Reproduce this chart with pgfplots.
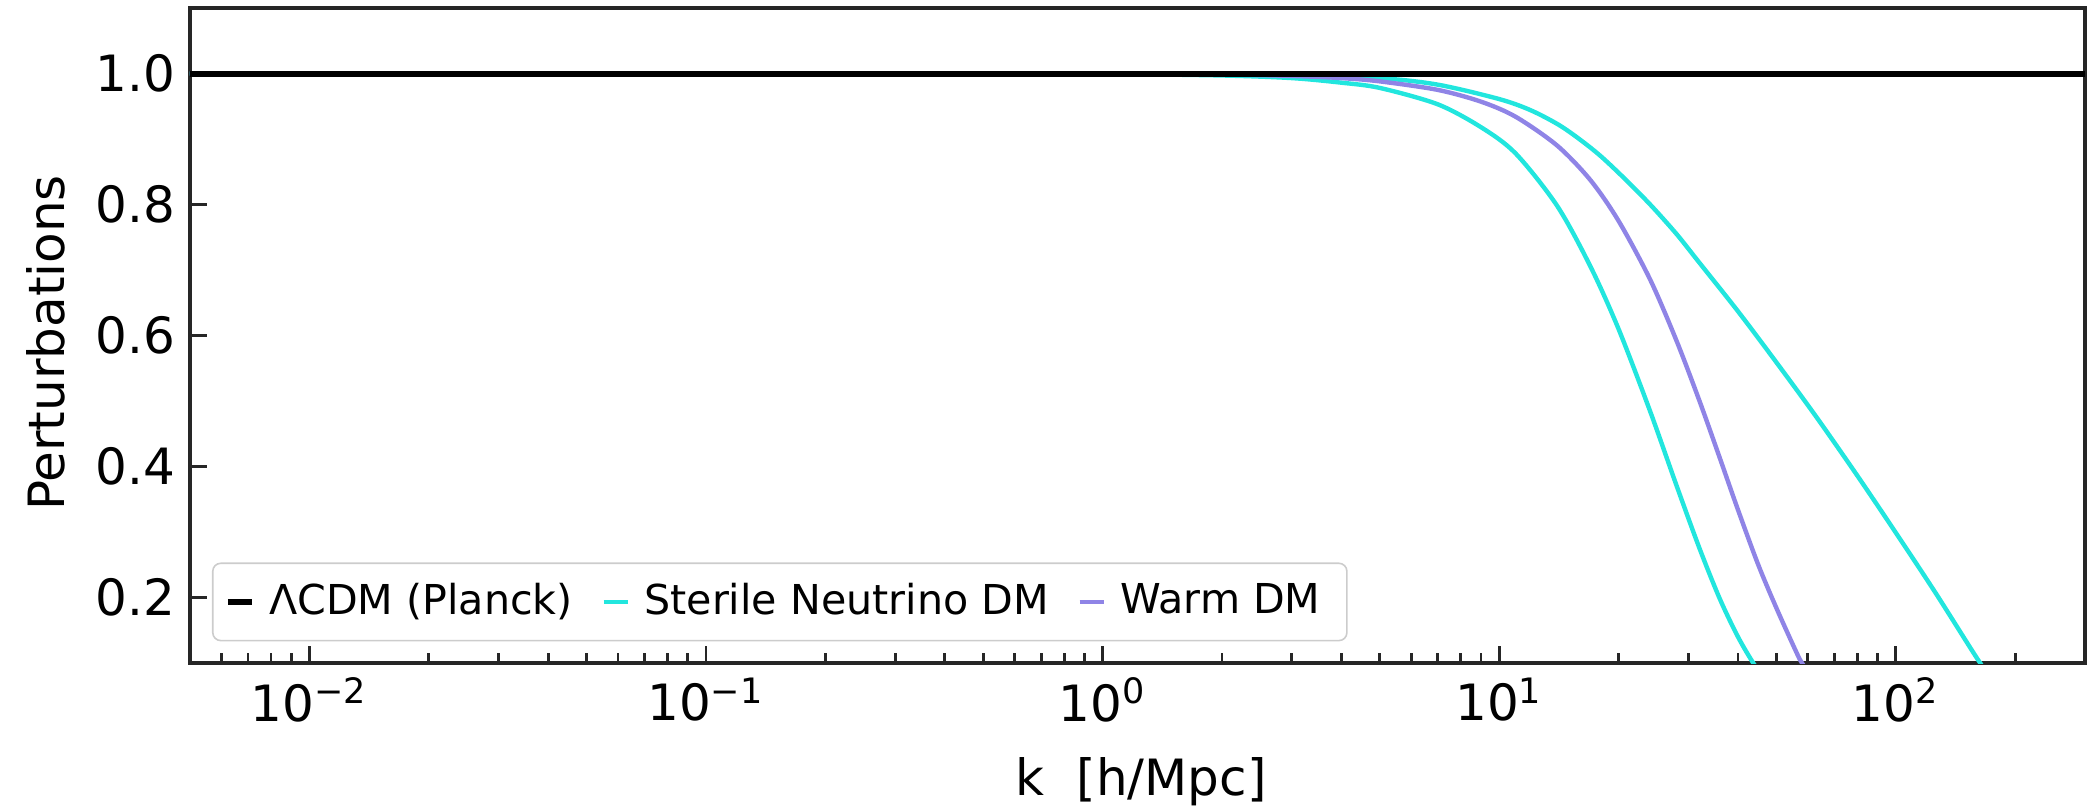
\documentclass[border=0pt]{standalone}
\usepackage{fontspec}
\setmainfont{DejaVu Sans}
\usepackage{pgfplots}
\pgfplotsset{compat=1.18}
\definecolor{cyanline}{HTML}{22E6DE}
\definecolor{purpline}{HTML}{8F84E6}
\begin{document}
\begin{tikzpicture}
\begin{axis}[
  xmode=log,
  scale only axis,
  width=473.75pt, height=163.75pt,
  xmin=0.005, xmax=300,
  ymin=0.1, ymax=1.1,
  axis line style={black!85, line width=0.8pt},
  tick style={black!85, line width=0.7pt},
  major tick length=4.2pt,
  minor tick length=2.6pt,
  xtick pos=left, ytick pos=left,
  tick align=inside,
  xtick={0.01,0.1,1,10,100},
  xticklabels={10\textsuperscript{−2},10\textsuperscript{−1},10\textsuperscript{0},10\textsuperscript{1},10\textsuperscript{2}},
  minor xtick={0.006,0.007,0.008,0.009,0.02,0.03,0.04,0.05,0.06,0.07,0.08,0.09,0.2,0.3,0.4,0.5,0.6,0.7,0.8,0.9,2,3,4,5,6,7,8,9,20,30,40,50,60,70,80,90,200},
  ytick={0.2,0.4,0.6,0.8,1.0},
  yticklabels={0.2,0.4,0.6,0.8,1.0},
  ticklabel style={font=\fontsize{12.5}{15}\selectfont, inner sep=0pt},
  xticklabel style={anchor=north, yshift=-3.5pt},
  yticklabel style={anchor=east, xshift=-3.5pt},
  xlabel={k\ \ [h/Mpc]},
  ylabel={Perturbations},
  label style={font=\fontsize{12.5}{15}\selectfont, inner sep=0pt},
  xlabel style={at={(axis description cs:0.502,-0.1435)}, anchor=north},
  ylabel style={at={(axis description cs:-0.0758,0.4885)}, anchor=center, rotate=0},
  legend image code/.code={\draw[#1] (0pt,0pt) -- (6pt,0pt);},
  legend style={at={(axis description cs:0.0116,0.033)}, anchor=south west,
    draw=black!20, rounded corners=2pt, fill=white,
    font=\fontsize{10.3}{12}\selectfont, inner xsep=3pt, inner ysep=3pt,
    nodes={inner xsep=3.6pt},
    /tikz/every even column/.append style={column sep=3.5pt}},
  legend columns=-1,
]
\addlegendimage{black, line width=1.5pt}
\addlegendentry{ΛCDM (Planck)}
\addlegendimage{cyanline, line width=1.2pt}
\addlegendentry{Sterile Neutrino DM}
\addlegendimage{purpline, line width=1.2pt}
\addlegendentry{Warm DM}

% Sterile neutrino DM (lower-k cut-off)
\addplot[cyanline, line width=1.1pt, smooth, forget plot] coordinates {
(0.005,1.0) (0.1,1.0) (0.5,0.9999) (1,0.9994) (2,0.997) (3,0.993) (4,0.986)
(5,0.978) (7,0.953) (9,0.918) (11,0.878) (14,0.798) (17,0.705) (20,0.610)
(24,0.485) (28,0.371) (32,0.275) (36,0.198) (40,0.140) (44,0.0974) (48,0.067)
};
% Sterile neutrino DM (higher-k cut-off)
\addplot[cyanline, line width=1.1pt, smooth, forget plot] coordinates {
(0.005,1.0) (0.1,1.0) (0.5,1.0) (1,0.9998) (2,0.9993) (3,0.998) (5,0.993)
(7,0.983) (10,0.961) (12,0.944) (14.1,0.922) (16,0.899) (18.1,0.873) (21,0.836)
(24.2,0.798) (28,0.755) (31.7,0.714) (40,0.637) (50,0.559) (63,0.476)
(80,0.386) (100,0.299) (126,0.207) (158,0.113) (175,0.073)
};
% Warm DM
\addplot[purpline, line width=1.1pt, smooth, forget plot] coordinates {
(0.005,1.0) (0.1,1.0) (0.5,1.0) (1,0.9997) (2,0.9985) (3,0.9963) (4,0.993)
(5,0.988) (7,0.975) (9,0.957) (11,0.934) (14,0.890) (17,0.837) (20,0.775)
(24,0.686) (28,0.592) (32,0.500) (36,0.413) (40,0.334) (45,0.250)
(50,0.184) (56,0.118) (58,0.100) (62,0.076)
};
% LambdaCDM
\addplot[black, line width=1.5pt, forget plot] coordinates {(0.005,1.0) (300,1.0)};
\end{axis}
\pgfresetboundingbox
\path ([shift={(-47.5pt,-35.75pt)}]current axis.south west) rectangle ([shift={(0.75pt,2pt)}]current axis.north east);
\end{tikzpicture}
\end{document}
